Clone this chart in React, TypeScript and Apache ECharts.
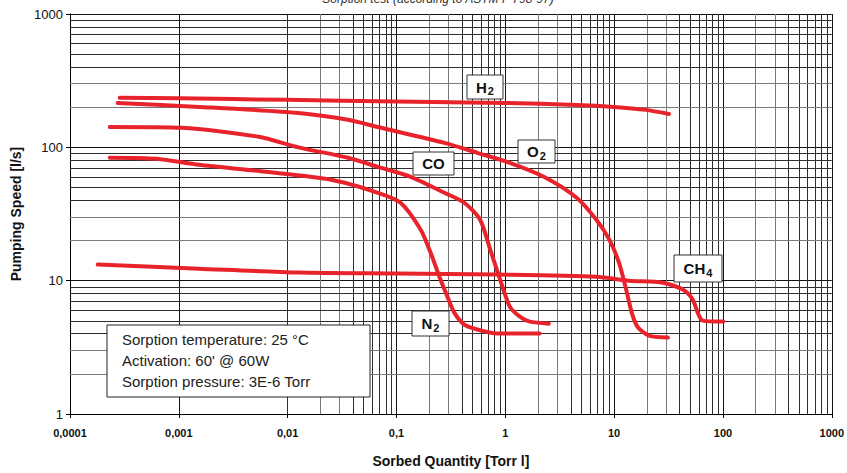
import React, { useEffect, useRef } from "react";
import * as echarts from "echarts";

const FONT = '"Liberation Sans", Arial, Helvetica, sans-serif';

// Sorbed quantity [Torr l] vs pumping speed [l/s]
const h2Data: number[][] = [
  [0.000286, 235], [0.001, 233], [0.01, 227], [0.1, 221], [1, 215],
  [4.52, 208], [10, 201], [19.6, 191], [31.9, 178],
];
const o2Data: number[][] = [
  [0.000274, 215], [0.00153, 201], [0.01256, 181], [0.0359, 161], [0.0675, 142],
  [0.276, 108], [0.552, 91], [1.1, 76.5], [2.26, 60.1], [4.52, 41.9], [6.87, 28.6],
  [9.03, 20.3], [11.1, 13.6], [12.9, 8.57], [14.7, 5.56], [16.6, 4.45], [20.9, 3.87],
  [31.2, 3.74],
];
const coData: number[][] = [
  [0.000232, 142], [0.00107, 140], [0.00542, 120], [0.01256, 100], [0.0359, 83.5],
  [0.0675, 71.4], [0.135, 60.1], [0.276, 45.6], [0.42, 38.4], [0.587, 28.6],
  [0.727, 17.1], [0.896, 10.2], [1.1, 6.39], [1.36, 5.37], [1.68, 4.93], [2.51, 4.76],
];
const n2Data: number[][] = [
  [0.000232, 83.5], [0.000622, 82], [0.00153, 73.9], [0.00628, 65.5], [0.0251, 57.1],
  [0.0675, 45.6], [0.109, 38.4], [0.167, 24.1], [0.206, 16.2], [0.248, 10.7],
  [0.294, 7.59], [0.34, 5.76], [0.42, 4.68], [0.552, 4.3], [0.839, 4.01], [2.07, 4.01],
];
const ch4Data: number[][] = [
  [0.00018, 13.2], [0.00153, 12.3], [0.01256, 11.5], [0.103, 11.3], [0.839, 11.1],
  [6.87, 10.7], [13.7, 10.0], [28.1, 9.66], [42.8, 8.57], [52.8, 7.21], [58.6, 5.76],
  [65.1, 5.02], [101, 4.93],
];

const xDecades = [0.0001, 0.001, 0.01, 0.1, 1, 10, 100];
const yDecades = [1, 10, 100];
const minorSteps = [2, 3, 4, 5, 6, 7, 8, 9];

const infoLines = [
  "Sorption temperature: 25 °C",
  "Activation: 60' @ 60W",
  "Sorption pressure: 3E-6 Torr",
];

const RED = "#e8232c";

function minorColor(m: number) {
  return m <= 3 ? "#7a7a7a" : "#2e2e2e";
}

function tag(x0: number, y0: number, w: number, h: number, main: string, sub: string) {
  return {
    type: "group",
    x: x0,
    y: y0,
    z: 100,
    children: [
      {
        type: "rect",
        z: 100,
        shape: { x: 0, y: 0, width: w, height: h },
        style: { fill: "#fff", stroke: "#333", lineWidth: 1 },
      },
      {
        type: "text",
        z: 101,
        x: w / 2,
        y: h / 2,
        style: {
          text: sub ? `{m|${main}}{s|${sub}}` : `{m|${main}}`,
          align: "center",
          verticalAlign: "middle",
          rich: {
            m: { fontSize: 15, fontWeight: "bold", fontFamily: FONT, fill: "#111" },
            s: { fontSize: 11, fontWeight: "bold", fontFamily: FONT, fill: "#111", padding: [8, 0, 0, 1] },
          },
        },
      },
    ],
  };
}

export default function App() {
  const ref = useRef<HTMLDivElement>(null);
  useEffect(() => {
    document.body.style.margin = "0";
    if (!ref.current) return;
    const chart = echarts.init(ref.current, undefined, { renderer: "svg" });

    const gridLines: any[] = [];
    xDecades.forEach((d) =>
      minorSteps.forEach((m) =>
        gridLines.push({ xAxis: d * m, lineStyle: { color: minorColor(m), width: 1, type: "solid" } })
      )
    );
    yDecades.forEach((d) =>
      minorSteps.forEach((m) =>
        gridLines.push({ yAxis: d * m, lineStyle: { color: minorColor(m), width: 1, type: "solid" } })
      )
    );

    const redSeries = (name: string, data: number[][]) => ({
      name,
      type: "line",
      data,
      z: 5,
      smooth: 0.25,
      symbol: "none",
      lineStyle: { color: RED, width: 4, cap: "round", join: "round" },
      silent: true,
    });

    chart.setOption({
      animation: false,
      grid: { left: 70, right: 10, top: 14, bottom: 58, containLabel: false },
      xAxis: {
        type: "log",
        logBase: 10,
        min: 0.0001,
        max: 1000,
        splitNumber: 10,
        axisLine: { show: true, lineStyle: { color: "#000", width: 1 } },
        axisTick: { show: true, length: 4, lineStyle: { color: "#000" } },
        axisLabel: {
          formatter: (v: number) => String(v).replace(".", ","),
          fontWeight: "bold",
          fontSize: 11,
          color: "#111",
          fontFamily: FONT,
          margin: 13,
        },
        splitLine: { show: true, lineStyle: { color: "#111", width: 1 } },
        name: "Sorbed Quantity [Torr l]",
        nameLocation: "middle",
        nameGap: 40,
        nameTextStyle: { fontWeight: "bold", fontSize: 14, color: "#111", fontFamily: FONT },
      },
      yAxis: {
        type: "log",
        logBase: 10,
        min: 1,
        max: 1000,
        splitNumber: 10,
        axisLine: { show: true, lineStyle: { color: "#000", width: 1 } },
        axisTick: { show: true, length: 4, lineStyle: { color: "#000" } },
        axisLabel: {
          formatter: (v: number) => String(v),
          fontSize: 13,
          color: "#111",
          fontFamily: FONT,
          margin: 7,
        },
        splitLine: { show: true, lineStyle: { color: "#111", width: 1 } },
        name: "Pumping Speed [l/s]",
        nameLocation: "middle",
        nameGap: 47,
        nameTextStyle: { fontWeight: "bold", fontSize: 14, color: "#111", fontFamily: FONT },
      },
      series: [
        {
          type: "line",
          data: [],
          z: 1,
          silent: true,
          markLine: {
            z: 1,
            silent: true,
            animation: false,
            symbol: ["none", "none"],
            label: { show: false },
            emphasis: { disabled: true },
            data: gridLines,
          },
        },
        redSeries("H2", h2Data),
        redSeries("O2", o2Data),
        redSeries("CO", coData),
        redSeries("N2", n2Data),
        redSeries("CH4", ch4Data),
      ],
      graphic: [
        {
          type: "text",
          x: 438,
          y: 5,
          z: 100,
          style: {
            text: "Sorption test (according to ASTM F 798-97)",
            align: "center",
            verticalAlign: "bottom",
            fontSize: 12,
            fontStyle: "italic",
            fontFamily: FONT,
            fill: "#333",
          },
        },
        tag(467, 75, 36, 24, "H", "2"),
        tag(518, 140, 37, 23, "O", "2"),
        tag(413, 152, 41, 23, "CO", ""),
        tag(412, 311, 37, 25, "N", "2"),
        tag(674, 255, 48, 27, "CH", "4"),
        {
          type: "group",
          x: 107,
          y: 325,
          z: 100,
          children: [
            {
              type: "rect",
              z: 100,
              shape: { x: 0, y: 0, width: 263, height: 72 },
              style: { fill: "#fff", stroke: "#222", lineWidth: 1 },
            },
            ...infoLines.map((t, i) => ({
              type: "text",
              z: 101,
              x: 15,
              y: 14 + i * 21,
              style: {
                text: t,
                align: "left",
                verticalAlign: "middle",
                fontSize: 15,
                fontFamily: FONT,
                fill: "#222",
              },
            })),
          ],
        },
      ],
    });
    return () => chart.dispose();
  }, []);
  return <div ref={ref} style={{ width: 847, height: 473 }} />;
}
